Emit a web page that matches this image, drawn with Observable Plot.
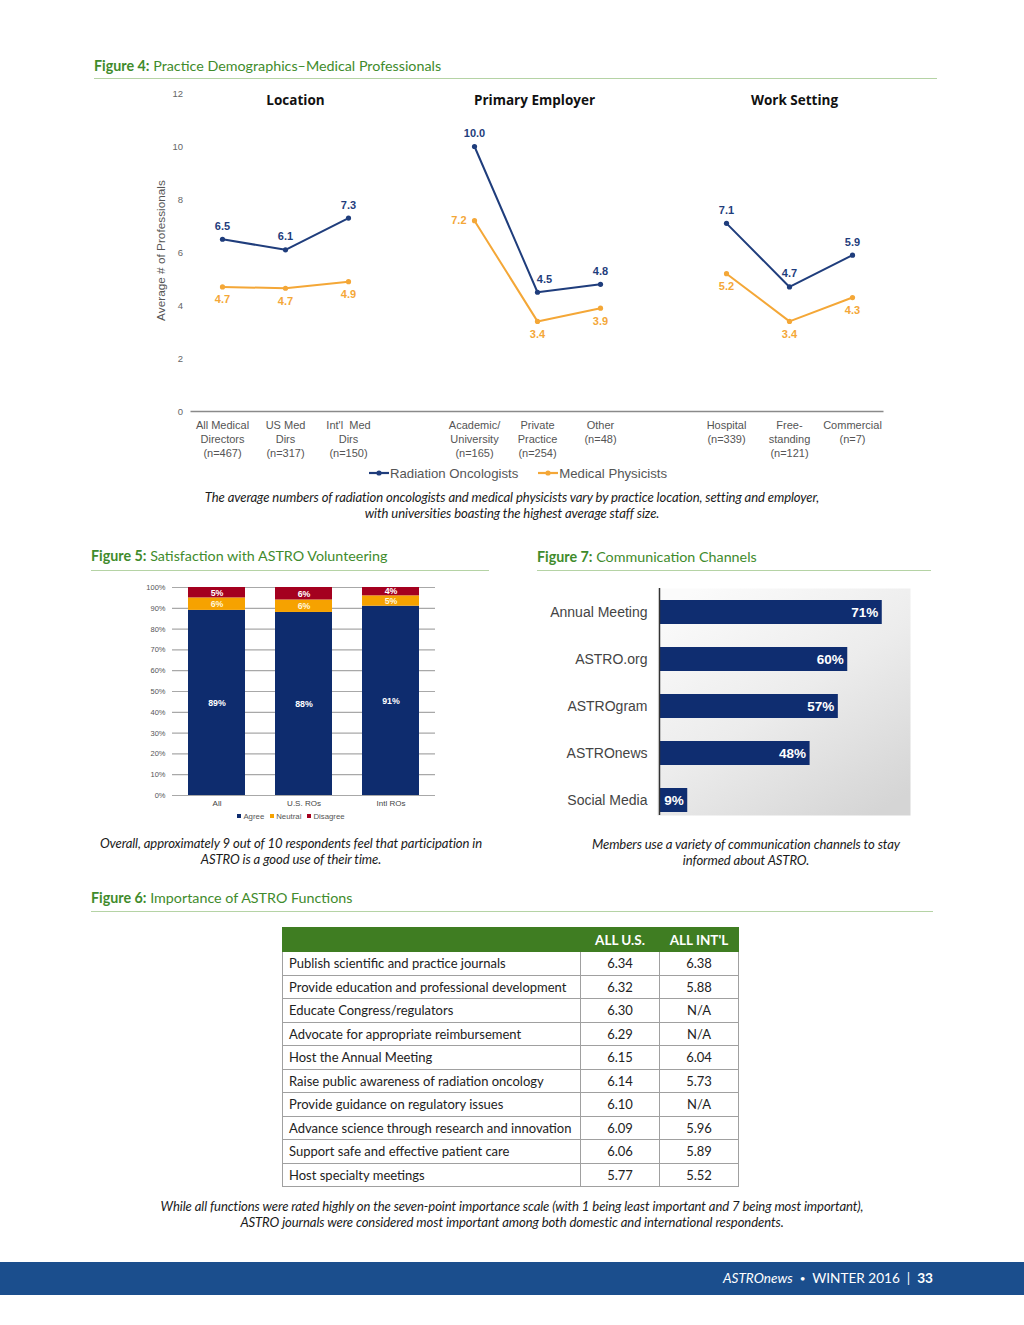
<!DOCTYPE html>
<html><head><meta charset="utf-8">
<script src="https://cdn.jsdelivr.net/npm/d3@7"></script>
<script src="https://cdn.jsdelivr.net/npm/@observablehq/plot@0.6"></script>
<style>
body{margin:0;background:#fff;}
#page{position:relative;width:1024px;height:1325px;overflow:hidden;font-family:Lato,"Open Sans",sans-serif;color:#222;}
.ftitle{position:absolute;color:#3f8b2c;font-size:14.3px;line-height:18px;white-space:nowrap;}
.ftitle b{font-weight:700;}
.rule{position:absolute;height:0;border-top:1.3px solid #b5d3a5;}
.cap{position:absolute;text-align:center;font-style:italic;font-size:13.1px;color:#1a1a1a;line-height:16px;letter-spacing:-0.1px;white-space:nowrap;}
.legend{position:absolute;font-family:"Liberation Sans",Arial,sans-serif;color:#555;white-space:nowrap;display:flex;align-items:center;justify-content:center;}
.legend span.item{display:inline-flex;align-items:center;}
table.t6{position:absolute;border-collapse:collapse;font-size:13px;color:#222;table-layout:fixed;}
table.t6 th{background:#3f7d22;color:#fff;font-weight:700;height:23px;padding:0;border:1px solid #3f7d22;font-size:13.5px;}
table.t6 td{height:22.5px;padding:0 6px;border:1px solid #a0a0a0;white-space:nowrap;overflow:hidden;}
table.t6 td.num{text-align:center;padding:0;}
#footer{position:absolute;left:0;top:1262px;width:1024px;height:33px;background:#1b4e8d;}
#footer div{position:absolute;right:91px;top:8px;color:#fff;font-size:13.6px;line-height:17px;white-space:nowrap;}
</style></head>
<body><div id="page"></div>
<script>
// ---------- Figure 4 data ----------
const fig4Categories = ["All Medical\nDirectors\n(n=467)", "US Med\nDirs\n(n=317)", "Int'l  Med\nDirs\n(n=150)",
  "Academic/\nUniversity\n(n=165)", "Private\nPractice\n(n=254)", "Other\n(n=48)",
  "Hospital\n(n=339)", "Free-\nstanding\n(n=121)", "Commercial\n(n=7)"];
const fig4Groups = ["Location","Primary Employer","Work Setting"];
const fig4GroupOf = ["Location","Location","Location","Primary Employer","Primary Employer","Primary Employer","Work Setting","Work Setting","Work Setting"];
const fig4Series = ["Radiation Oncologists","Medical Physicists"];
const radOncValues = [6.5, 6.1, 7.3, 10.0, 4.5, 4.8, 7.1, 4.7, 5.9];
const medPhysValues = [4.7, 4.65, 4.9, 7.2, 3.4, 3.9, 5.2, 3.4, 4.3];
const medPhysLabels = ["4.7","4.7","4.9","7.2","3.4","3.9","5.2","3.4","4.3"];
const fig4YTicks = [0, 2, 4, 6, 8, 10, 12];

// ---------- Figure 5 data ----------
const fig5Groups = ["All", "U.S. ROs", "Intl ROs"];
const fig5Responses = ["Agree", "Neutral", "Disagree"];
const agreePct = [89, 88, 91];
const neutralPct = [6, 6, 5];
const disagreePct = [5, 6, 4];
const fig5Ticks = [0,10,20,30,40,50,60,70,80,90,100];

// ---------- Figure 7 data ----------
const channels = ["Annual Meeting", "ASTRO.org", "ASTROgram", "ASTROnews", "Social Media"];
const channelPct = [71, 60, 57, 48, 9];

// ---------- Figure 6 data ----------
const astroFunctions = ["Publish scientific and practice journals","Provide education and professional development",
  "Educate Congress/regulators","Advocate for appropriate reimbursement","Host the Annual Meeting",
  "Raise public awareness of radiation oncology","Provide guidance on regulatory issues",
  "Advance science through research and innovation","Support safe and effective patient care","Host specialty meetings"];
const usScores = [6.34, 6.32, 6.30, 6.29, 6.15, 6.14, 6.10, 6.09, 6.06, 5.77];
const intlScores = [6.38, 5.88, null, null, 6.04, 5.73, null, 5.96, 5.89, 5.52];
const tableHeaders = ["", "ALL U.S.", "ALL INT'L"];

// ---------- colors ----------
const navy = "#1f3d7c", orange = "#f4a737";
const agreeC = "#0e2c6e", neutralC = "#f6a200", disagreeC = "#a4001f";
const barC = "#0f2d70";

const page = document.getElementById("page");
function add(html){ const d=document.createElement("div"); d.innerHTML=html; while(d.firstChild) page.appendChild(d.firstChild); }
function place(node, left, top){ node.style.position="absolute"; node.style.left=left+"px"; node.style.top=top+"px"; page.appendChild(node); return node; }

// ---------- static text ----------
add(`<div class="ftitle" style="left:94px;top:57px"><b>Figure 4:</b> Practice Demographics–Medical Professionals</div>
<div class="rule" style="left:94px;top:78px;width:843px"></div>
<div class="cap" style="left:112px;top:489px;width:800px">The average numbers of radiation oncologists and medical physicists vary by practice location, setting and employer,<br>with universities boasting the highest average staff size.</div>
<div class="ftitle" style="left:91px;top:547px"><b>Figure 5:</b> Satisfaction with ASTRO Volunteering</div>
<div class="rule" style="left:91px;top:570px;width:398px"></div>
<div class="ftitle" style="left:537px;top:548px"><b>Figure 7:</b> Communication Channels</div>
<div class="rule" style="left:537px;top:570px;width:394px"></div>
<div class="cap" style="left:81px;top:835px;width:420px">Overall, approximately 9 out of 10 respondents feel that participation in<br>ASTRO is a good use of their time.</div>
<div class="cap" style="left:536px;top:836px;width:420px">Members use a variety of communication channels to stay<br>informed about ASTRO.</div>
<div class="ftitle" style="left:91px;top:889px"><b>Figure 6:</b> Importance of ASTRO Functions</div>
<div class="rule" style="left:91px;top:911px;width:842px"></div>
<div class="cap" style="left:112px;top:1198px;width:800px">While all functions were rated highly on the seven-point importance scale (with 1 being least important and 7 being most important),<br>ASTRO journals were considered most important among both domestic and international respondents.</div>
<div id="footer"><div><i>ASTROnews</i> &nbsp;<span style="font-size:10px;position:relative;top:-1px">•</span>&nbsp; WINTER 2016 &nbsp;|&nbsp; <b>33</b></div></div>`);

// ---------- Figure 4 ----------
const rows4 = fig4Categories.flatMap((c, i) => [
  {cat: c, group: fig4GroupOf[i], series: fig4Series[0], value: radOncValues[i], label: radOncValues[i].toFixed(1)},
  {cat: c, group: fig4GroupOf[i], series: fig4Series[1], value: medPhysValues[i], label: medPhysLabels[i]}
]);
const xDomain4 = [];
fig4Groups.forEach((g, gi) => {
  if (gi > 0) xDomain4.push("gap" + gi);
  fig4Categories.forEach((c, i) => { if (fig4GroupOf[i] === g) xDomain4.push(c); });
});
const middleOf = g => fig4Categories.filter((c, i) => fig4GroupOf[i] === g)[1];
const firstOf = g => fig4Categories.filter((c, i) => fig4GroupOf[i] === g)[0];
const ro4 = rows4.filter(d => d.series === fig4Series[0]);
const mp4 = rows4.filter(d => d.series === fig4Series[1]);
const isPEfirst = d => d.cat === firstOf("Primary Employer");
const isPEmid = d => d.cat === middleOf("Primary Employer");
const titleStyle = {frameAnchor: "top", lineAnchor: "middle", dy: 7, text: d => d, fontWeight: "bold",
  fontSize: 13.5, fill: "#111", fontFamily: "'Open Sans', sans-serif"};
const labelStyle = {x: "cat", y: "value", text: "label", fontWeight: "bold", fontSize: 11};
const fig4 = Plot.plot({
  width: 760, height: 390, marginLeft: 50.5, marginRight: 16.5, marginTop: 13, marginBottom: 59,
  style: {fontFamily: "'Liberation Sans', Arial, sans-serif", background: "transparent", overflow: "visible"},
  x: {type: "point", domain: xDomain4, padding: 0.5, label: null},
  y: {domain: [0, 12], label: null},
  color: {domain: fig4Series, range: [navy, orange]},
  marks: [
    Plot.axisY({ticks: fig4YTicks, tickSize: 0, tickPadding: 8, fontSize: 9.5, fill: "#666", label: null}),
    Plot.text(["Average # of Professionals"], {frameAnchor: "left", textAnchor: "middle", rotate: -90, dx: -30, dy: -2, fontSize: 11.8, fill: "#555"}),
    Plot.axisX({tickSize: 0, tickPadding: 8, fontSize: 11, fill: "#555", lineHeight: 1.27,
      tickFormat: d => d.startsWith("gap") ? "" : d}),
    Plot.ruleY([0], {stroke: "#8a8a8a", strokeWidth: 1.6}),
    Plot.text([fig4Groups[0]], {x: d => middleOf(d), ...titleStyle, dx: 10}),
    Plot.text([fig4Groups[1]], {x: d => middleOf(d), ...titleStyle, dx: -3}),
    Plot.text([fig4Groups[2]], {x: d => middleOf(d), ...titleStyle, dx: 5}),
    Plot.line(rows4, {x: "cat", y: "value", z: d => d.series + d.group, stroke: "series", strokeWidth: 2}),
    Plot.dot(rows4, {x: "cat", y: "value", fill: "series", r: 2.6}),
    Plot.text(ro4.filter(d => !isPEmid(d)), {...labelStyle, dy: -13, fill: navy}),
    Plot.text(ro4.filter(isPEmid), {...labelStyle, dy: -13, dx: 7, fill: navy}),
    Plot.text(mp4.filter(d => !isPEfirst(d)), {...labelStyle, dy: 13, fill: orange}),
    Plot.text(mp4.filter(isPEfirst), {...labelStyle, dx: -8, textAnchor: "end", fill: orange})
  ]
});
place(fig4, 140, 80);

// Figure 4 legend
const legendIcon = c => `<svg width="20" height="8" style="margin-right:1px"><line x1="0" y1="4" x2="20" y2="4" stroke="${c}" stroke-width="2.2"/><circle cx="10" cy="4" r="2.6" fill="${c}"/></svg>`;
const leg4 = document.createElement("div");
leg4.className = "legend";
leg4.style.cssText = "left:318px;top:465px;width:400px;height:16px;font-size:13.2px;";
leg4.innerHTML = fig4Series.map((s, i) => `<span class="item" style="margin:0 10px">${legendIcon([navy, orange][i])}${s}</span>`).join("");
page.appendChild(leg4);

// ---------- Figure 5 ----------
const rows5 = fig5Groups.flatMap((g, i) => [
  {group: g, response: fig5Responses[0], value: agreePct[i]},
  {group: g, response: fig5Responses[1], value: neutralPct[i]},
  {group: g, response: fig5Responses[2], value: disagreePct[i]}
]);
const fig5 = Plot.plot({
  width: 320, height: 235, marginLeft: 42, marginRight: 15, marginTop: 7, marginBottom: 20,
  style: {fontFamily: "'Liberation Sans', Arial, sans-serif", background: "transparent", overflow: "visible"},
  x: {domain: fig5Groups, paddingInner: 0.34, paddingOuter: 0.165, label: null},
  y: {domain: [0, 100], label: null},
  color: {domain: fig5Responses, range: [agreeC, neutralC, disagreeC]},
  marks: [
    Plot.gridY(fig5Ticks, {stroke: "#a8a8a8", strokeOpacity: 1, strokeWidth: 1.2}),
    Plot.axisY({ticks: fig5Ticks, tickFormat: d => d + "%", tickSize: 0, tickPadding: 7, fontSize: 7.5, fill: "#555", label: null}),
    Plot.axisX({tickSize: 0, tickPadding: 5, fontSize: 8, fill: "#444", label: null}),
    Plot.barY(rows5, Plot.stackY({x: "group", y: "value", fill: "response", order: fig5Responses})),
    Plot.text(rows5, Plot.stackY({x: "group", y: "value", z: "response", order: fig5Responses, text: d => d.value + "%",
      fill: d => d.response === "Neutral" ? "#fff6dc" : "#fff", fontWeight: "bold", fontSize: 8.8}))
  ]
});
place(fig5, 130, 580);
const leg5 = document.createElement("div");
leg5.className = "legend";
leg5.style.cssText = "left:191px;top:811px;width:200px;height:10px;font-size:7.8px;";
leg5.innerHTML = fig5Responses.map((s, i) => `<span class="item" style="margin:0 3px"><span style="display:inline-block;width:4px;height:4px;background:${[agreeC, neutralC, disagreeC][i]};margin-right:2px"></span>${s}</span>`).join("");
page.appendChild(leg5);

// ---------- Figure 7 ----------
const rows7 = channels.map((c, i) => ({channel: c, pct: channelPct[i]}));
const fig7 = Plot.plot({
  width: 400, height: 240, marginLeft: 129, marginRight: 20, marginTop: 15, marginBottom: 8,
  style: {fontFamily: "'Liberation Sans', Arial, sans-serif", background: "transparent", overflow: "visible"},
  x: {domain: [0, 80], axis: null},
  y: {domain: channels, paddingInner: 0.479, paddingOuter: 0, align: 0, label: null},
  marks: [
    Plot.frame({fill: "url(#fig7bg)", stroke: null, insetTop: -12, insetBottom: 2, insetLeft: -2}),
    Plot.axisY({tickSize: 0, tickPadding: 12, fontSize: 14, fill: "#444", label: null}),
    Plot.barX(rows7, {x: "pct", y: "channel", fill: barC, insetBottom: 0}),
    Plot.ruleX([0], {stroke: "#333", strokeWidth: 1.5, insetTop: -12, insetBottom: 2}),
    Plot.text(rows7, {x: "pct", y: "channel", text: d => d.pct + "%", textAnchor: "end", dx: -4, fill: "#fff", fontWeight: "bold", fontSize: 13.5})
  ]
});
d3.select(fig7).insert("defs", ":first-child").html(
  `<linearGradient id="fig7bg" x1="0.15" y1="0" x2="0.85" y2="1">
     <stop offset="0" stop-color="#fbfbfb"/><stop offset="0.5" stop-color="#ececec"/><stop offset="1" stop-color="#d5d5d5"/>
   </linearGradient>`);
place(fig7, 530, 585);

// ---------- Figure 6 table ----------
const table = document.createElement("table");
table.className = "t6";
table.style.left = "282px"; table.style.top = "927px"; table.style.width = "456px";
const colW = [298, 79, 79];
const colgroup = `<colgroup>${colW.map(w => `<col style="width:${w}px">`).join("")}</colgroup>`;
const thead = `<tr>${tableHeaders.map(h => `<th>${h}</th>`).join("")}</tr>`;
const tbody = astroFunctions.map((f, i) =>
  `<tr><td>${f}</td><td class="num">${usScores[i].toFixed(2)}</td><td class="num">${intlScores[i] == null ? "N/A" : intlScores[i].toFixed(2)}</td></tr>`).join("");
table.innerHTML = colgroup + thead + tbody;
page.appendChild(table);
</script>
</body></html>
